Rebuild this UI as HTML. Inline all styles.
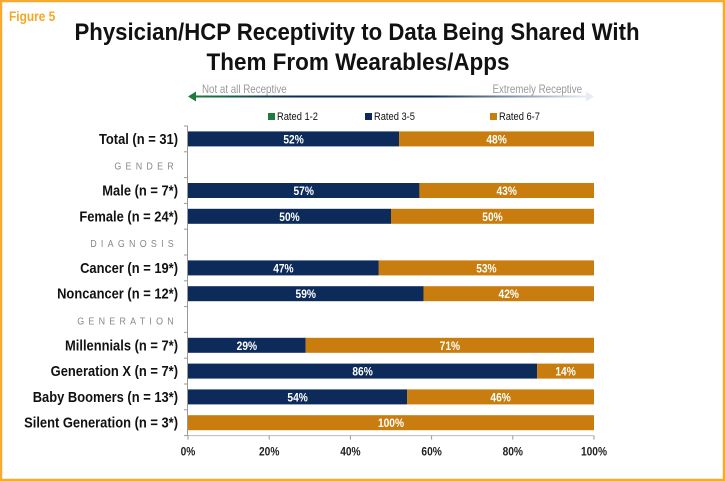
<!DOCTYPE html>
<html><head><meta charset="utf-8"><style>
html,body{margin:0;padding:0;background:#fff;}
svg{display:block;font-family:"Liberation Sans Narrow","Liberation Sans",sans-serif;}
</style></head><body>
<svg id="chart" width="725" height="481" viewBox="0 0 725 481" xmlns="http://www.w3.org/2000/svg">
<rect x="1" y="1" width="723" height="479" fill="#fff" stroke="#f7ab2e" stroke-width="2.5"/>
<text transform="translate(9,21) scale(0.85,1)" font-size="14" font-weight="bold" fill="#f5a623">Figure 5</text>
<text x="357" y="40" font-size="24" font-weight="bold" fill="#111" text-anchor="middle" textLength="565" lengthAdjust="spacingAndGlyphs">Physician/HCP Receptivity to Data Being Shared With</text>
<text x="358" y="70" font-size="24" font-weight="bold" fill="#111" text-anchor="middle" textLength="303" lengthAdjust="spacingAndGlyphs">Them From Wearables/Apps</text>
<defs><linearGradient id="g" x1="0" x2="1"><stop offset="0" stop-color="#1e7b3a"/><stop offset="0.25" stop-color="#0d2b5a"/><stop offset="0.6" stop-color="#0d2b5a"/><stop offset="1" stop-color="#e6ecf4"/></linearGradient></defs>
<rect x="194" y="95.5" width="392" height="2" fill="url(#g)"/>
<polygon points="188,96.5 196,91.5 196,101.5" fill="#1e7b3a"/>
<polygon points="594,96.5 586,91.5 586,101.5" fill="#e6ecf4"/>
<text transform="translate(202,93) scale(0.85,1)" font-size="11.5" fill="#999">Not at all Receptive</text>
<text transform="translate(582,93) scale(0.85,1)" font-size="11.5" fill="#999" text-anchor="end">Extremely Receptive</text>
<g id="legend"></g>
<g id="plot"></g>
</svg>
<script>
const categories=["Total (n = 31)","GENDER","Male (n = 7*)","Female (n = 24*)","DIAGNOSIS","Cancer (n = 19*)","Noncancer (n = 12*)","GENERATION","Millennials (n = 7*)","Generation X (n = 7*)","Baby Boomers (n = 13*)","Silent Generation (n = 3*)"];
const rated12=[0,null,0,0,null,0,0,null,0,0,0,0];
const rated35=[52,null,57,50,null,47,58,null,29,86,54,0];
const rated67=[48,null,43,50,null,53,42,null,71,14,46,100];
const label35=["52%","","57%","50%","","47%","59%","","29%","86%","54%",""];
const label67=["48%","","43%","50%","","53%","42%","","71%","14%","46%","100%"];
const seriesNames=["Rated 1-2","Rated 3-5","Rated 6-7"];
const ticks=[0,20,40,60,80,100];
const NS="http://www.w3.org/2000/svg";
const colors=["#1e7b3a","#0d2b5a","#c97d0e"];
const x0=188,x1=594,yTop=126,step=25.8,bh=15,SX=0.85;
const xs=v=>x0+(x1-x0)*v/100;
const yc=i=>yTop+step*(i+0.5);
const plot=document.getElementById('plot'),leg=document.getElementById('legend');
function mk(tag,attrs,parent,text){const e=document.createElementNS(NS,tag);for(const k in attrs)e.setAttribute(k,attrs[k]);if(text!=null)e.textContent=text;parent.appendChild(e);return e;}
function tx(x,y,attrs,parent,text){attrs.transform='translate('+x+','+y+') scale('+SX+',1)';return mk('text',attrs,parent,text);}
const lx=[268,365,490];
seriesNames.forEach((n,i)=>{
 const r=mk('rect',{x:lx[i],y:113,width:7,height:7,fill:colors[i]},leg);
 
 
 const t=tx(lx[i]+9,120,{'font-size':11,fill:'#111'},leg,n);
 
 
});
const yBot=yTop+step*categories.length;
const ax=mk('line',{x1:x0-0.5,x2:x0-0.5,y1:yTop,y2:yBot,stroke:'#999','stroke-width':1},plot);


const bx=mk('line',{x1:x0,x2:x1,y1:yBot,y2:yBot,stroke:'#bbb','stroke-width':1},plot);


for(let i=0;i<=categories.length;i++){
 const tk=mk('line',{x1:x0-4,x2:x0,y1:yTop+step*i,y2:yTop+step*i,stroke:'#999'},plot);
 
 
}
ticks.forEach(v=>{
 const tl=mk('line',{x1:xs(v),x2:xs(v),y1:yBot,y2:yBot+4,stroke:'#999'},plot);
 
 
 const t=tx(xs(v),yBot+20,{'font-size':12,'font-weight':'bold','text-anchor':'middle',fill:'#222'},plot,v+'%');
 
 
});
categories.forEach((c,i)=>{
 const y=yc(i);
 if(rated35[i]===null){
  const h=tx(178,y+5,{'font-size':10.5,fill:'#888','text-anchor':'end','letter-spacing':'5'},plot,c);
  
  
  return;
 }
 const t=tx(178,y+5,{'font-size':15.2,'font-weight':'bold','text-anchor':'end',fill:'#111'},plot,c);
 
 
 let acc=0;
 [[rated12[i],0,""],[rated35[i],1,label35[i]],[rated67[i],2,label67[i]]].forEach(([v,si,lab])=>{
  if(!v)return;
  const r=mk('rect',{x:xs(acc),y:y-bh/2,width:xs(acc+v)-xs(acc),height:bh,fill:colors[si]},plot);
  
  
  if(lab){
   const tt=tx((xs(acc)+xs(acc+v))/2,y+4.5,{'font-size':12,'font-weight':'bold',fill:'#fff','text-anchor':'middle'},plot,lab);
   
   
  }
  acc+=v;
 });
});
</script>
</body></html>
